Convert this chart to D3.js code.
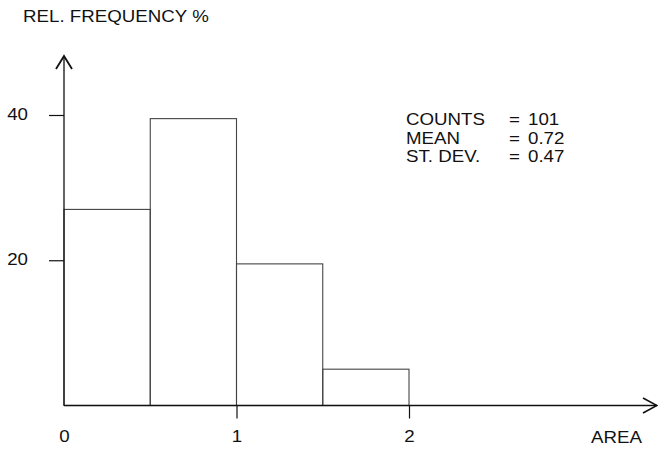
<!DOCTYPE html>
<html>
<head>
<meta charset="utf-8">
<script src="https://cdnjs.cloudflare.com/ajax/libs/d3/7.8.5/d3.min.js"></script>
<style>
  body { margin: 0; background: #fff; }
  svg text { font-family: "Liberation Sans", Arial, sans-serif; font-size: 16px; fill: #111; }
</style>
</head>
<body>
<svg id="hist" width="658" height="451"></svg>
<script>
// histogram data
var binStarts = [0, 0.5, 1, 1.5]
var binWidth = 0.5
var relFreq = [27, 39.5, 19.5, 5]

var yTicks = [20, 40]
var xTicks = [0, 1, 2]

var statNames = ["COUNTS", "MEAN", "ST. DEV."]
var statValues = ["101", "0.72", "0.47"]

var stretch = 1.17   // the scanned lettering is a bit wide

var svg = d3.select("#hist")

var xScale = d3.scaleLinear()
    .domain([0, 2])
    .range([64, 409])

var yScale = d3.scaleLinear()
    .domain([0, 40])
    .range([405.5, 115])

var axisEnd = {x: 657, y: 56}

var drawBars = function(target) {
    target.selectAll("rect.bar")
        .data(relFreq)
        .enter()
        .append("rect")
            .attr("class", "bar")
            .attr("x", (d, i) => xScale(binStarts[i]))
            .attr("width", (d, i) => xScale(binStarts[i] + binWidth) - xScale(binStarts[i]))
            .attr("y", d => yScale(d))
            .attr("height", d => yScale(0) - yScale(d))
            .attr("fill", "none")
            .attr("stroke", "#444")
            .attr("stroke-width", 1.1)
}

var drawAxes = function(target) {
    var y0 = yScale(0), x0 = xScale(0)

    // y axis
    var yAxis = d3.axisLeft(yScale).tickValues(yTicks).tickSize(15).tickSizeOuter(0)
    var gy = target.append("g").attr("transform", "translate(" + x0 + ",0)").call(yAxis)
    gy.select(".domain").remove()
    gy.selectAll("line").attr("stroke", "#111").attr("stroke-width", 1.2)
    gy.selectAll("text")
        .attr("text-anchor", "end")
        .attr("x", -36 / stretch)
        .attr("y", 4)
        .attr("dy", null)
        .attr("fill", "#111")
        .attr("transform", "scale(" + stretch + ",1)")

    // x axis
    var xAxis = d3.axisBottom(xScale).tickValues(xTicks).tickFormat(d3.format("d"))
        .tickSize(13).tickSizeOuter(0)
    var gx = target.append("g").attr("transform", "translate(0," + y0 + ")").call(xAxis)
    gx.select(".domain").remove()
    gx.selectAll("line")
        .attr("stroke", "#111").attr("stroke-width", 1.2)
        .attr("opacity", d => d === 0 ? 0 : 1)
    gx.selectAll("text")
        .attr("y", 36.5)
        .attr("dy", null)
        .attr("fill", "#111")
        .attr("transform", "scale(" + stretch + ",1)")

    // axis lines with open arrow heads
    target.append("line")
        .attr("x1", x0).attr("y1", y0).attr("x2", x0).attr("y2", axisEnd.y)
        .attr("stroke", "#111").attr("stroke-width", 1.3)
    target.append("path")
        .attr("d", "M" + (x0 - 8) + "," + (axisEnd.y + 13) + "L" + x0 + "," + axisEnd.y + "L" + (x0 + 8) + "," + (axisEnd.y + 13))
        .attr("fill", "none").attr("stroke", "#111").attr("stroke-width", 1.8)

    target.append("line")
        .attr("x1", x0).attr("y1", y0).attr("x2", axisEnd.x).attr("y2", y0)
        .attr("stroke", "#111").attr("stroke-width", 1.3)
    target.append("path")
        .attr("d", "M" + (axisEnd.x - 14) + "," + (y0 - 7.5) + "L" + axisEnd.x + "," + y0 + "L" + (axisEnd.x - 14) + "," + (y0 + 7.5))
        .attr("fill", "none").attr("stroke", "#111").attr("stroke-width", 1.6)
}

var stretchedText = function(target, x, y, txt, anchor) {
    target.append("text")
        .attr("transform", "translate(" + x + "," + y + ") scale(" + stretch + ",1)")
        .attr("text-anchor", anchor || "start")
        .text(txt)
}

var drawLabels = function(target) {
    stretchedText(target, 23, 22, "REL. FREQUENCY %")
    stretchedText(target, 642, 443, "AREA", "end")

    statNames.forEach(function(s, i) {
        stretchedText(target, 406, 125 + i * 18.5, s)
        stretchedText(target, 509, 125 + i * 18.5, "=")
        stretchedText(target, 528, 125 + i * 18.5, statValues[i])
    })
}

drawBars(svg)
drawAxes(svg)
drawLabels(svg)
</script>
</body>
</html>
